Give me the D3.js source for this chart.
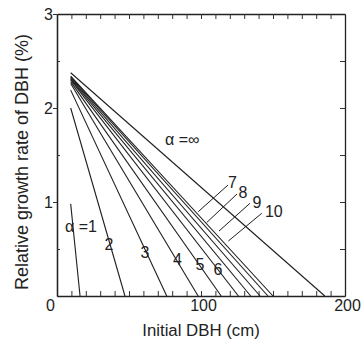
<!DOCTYPE html>
<html>
<head>
<meta charset="utf-8">
<script src="https://cdn.jsdelivr.net/npm/d3@7"></script>
<style>
  body { margin: 0; background: #fff; }
  text { font-family: "Liberation Sans", Arial, sans-serif; fill: #222; }
</style>
</head>
<body>
<script>
var w = 362, h = 341;
var margin = { top: 14, right: 17, bottom: 45, left: 57 };

// curves: alpha label, start dbh, start rate, dbh where rate reaches 0
var alphas   = ["1", "2", "3", "4", "5", "6", "7", "8", "9", "10", "∞"];
var startX   = [9.5, 9.5, 9.5, 9.5, 9.5, 9.5, 9.5, 9.5, 9.5, 9.5, 9.5];
var startY   = [0.98, 2.0, 2.19, 2.26, 2.28, 2.30, 2.31, 2.32, 2.33, 2.34, 2.375];
var endX     = [16, 47.2, 76.2, 98, 114, 126, 134.5, 141, 146.5, 150, 186];

// curve labels (data units) [text, x, y, anchor]
var labels = [
  ["α =1", 5.6, 0.68, "start"],
  ["2", 36.1, 0.49, "middle"],
  ["3", 61.1, 0.40, "middle"],
  ["4", 83.7, 0.33, "middle"],
  ["5", 99.3, 0.277, "middle"],
  ["6", 111.8, 0.223, "middle"],
  ["7", 121.9, 1.149, "middle"],
  ["8", 129.2, 1.043, "middle"],
  ["9", 138.9, 0.936, "middle"],
  ["10", 144.4, 0.84, "start"],
  ["α =∞", 75, 1.606, "start"]
];
// leader lines for 7..10 [x1, y1, x2, y2]
var leaders = [
  [98.1, 0.897, 118.75, 1.181],
  [104, 0.782, 125, 1.085],
  [112.5, 0.691, 134, 0.986],
  [119, 0.585, 142.2, 0.88]
];

var xTicks = d3.range(0, 201, 10);
var yHalf = [0.5, 1.5, 2.5];
var yInt = [1, 2, 3];

var iw = w - margin.left - margin.right;
var ih = h - margin.top - margin.bottom;

var x = d3.scaleLinear().domain([0, 200]).range([0, iw]);
var y = d3.scaleLinear().domain([0, 3]).range([ih, 0]);

var svg = d3.select('body').append('svg').attr('width', w).attr('height', h);
var g = svg.append('g').attr('transform', 'translate(' + margin.left + ',' + margin.top + ')');

// axes (ticks point inside the frame)
var xb = g.append('g').attr('transform', 'translate(0,' + ih + ')')
  .call(d3.axisBottom(x).tickValues(xTicks).tickSizeInner(-5).tickSizeOuter(0).tickPadding(4)
    .tickFormat(function (d) { return (d === 0 || d === 100 || d === 200) ? d : ''; }));
xb.selectAll('.tick text').attr('dx', function (d) { return d === 0 ? -7 : 2; });

g.append('g')
  .call(d3.axisTop(x).tickValues(xTicks.slice(1, -1)).tickSizeInner(-5).tickSizeOuter(0).tickFormat(''));

g.append('g').attr('transform', 'translate(' + iw + ',0)')
  .call(d3.axisRight(y).tickValues(d3.range(0.5, 3, 0.5)).tickSizeInner(-5).tickSizeOuter(0).tickFormat(''));

g.append('g')
  .call(d3.axisLeft(y).tickValues(yInt).tickSizeInner(4).tickSizeOuter(0).tickPadding(0).tickFormat(d3.format('d')));
g.append('g')
  .call(d3.axisLeft(y).tickValues(yHalf).tickSizeInner(-3).tickSizeOuter(0).tickFormat(''));

svg.selectAll('.domain').attr('stroke', '#222').attr('stroke-width', 1.3);
svg.selectAll('.tick line').attr('stroke', '#333');
svg.selectAll('.tick text').attr('font-size', 16).attr('fill', '#222')
  .attr('font-family', '"Liberation Sans", Arial, sans-serif');

// curves
g.selectAll('line.curve')
  .data(alphas)
  .enter()
  .append('line')
  .attr('class', 'curve')
  .attr('x1', function (d, i) { return x(startX[i]); })
  .attr('y1', function (d, i) { return y(startY[i]); })
  .attr('x2', function (d, i) { return x(endX[i]); })
  .attr('y2', y(0))
  .style('stroke', '#1e1e1e')
  .style('stroke-width', 1.1);

g.selectAll('line.leader')
  .data(leaders)
  .enter()
  .append('line')
  .attr('class', 'leader')
  .attr('x1', function (d) { return x(d[0]); })
  .attr('y1', function (d) { return y(d[1]); })
  .attr('x2', function (d) { return x(d[2]); })
  .attr('y2', function (d) { return y(d[3]); })
  .style('stroke', '#1e1e1e')
  .style('stroke-width', 1);

g.selectAll('text.lab')
  .data(labels)
  .enter()
  .append('text')
  .attr('class', 'lab')
  .attr('x', function (d) { return x(d[1]); })
  .attr('y', function (d) { return y(d[2]); })
  .attr('text-anchor', function (d) { return d[3]; })
  .attr('font-size', 16)
  .text(function (d) { return d[0]; });

// titles
svg.append('text')
  .attr('x', margin.left + iw / 2)
  .attr('y', 336)
  .attr('text-anchor', 'middle')
  .attr('font-size', 16.8)
  .text('Initial DBH (cm)');

svg.append('text')
  .attr('transform', 'translate(27.5,' + (margin.top + ih / 2 + 7) + ') rotate(-90)')
  .attr('text-anchor', 'middle')
  .attr('font-size', 18)
  .text('Relative growth rate of DBH (%)');
</script>
</body>
</html>
